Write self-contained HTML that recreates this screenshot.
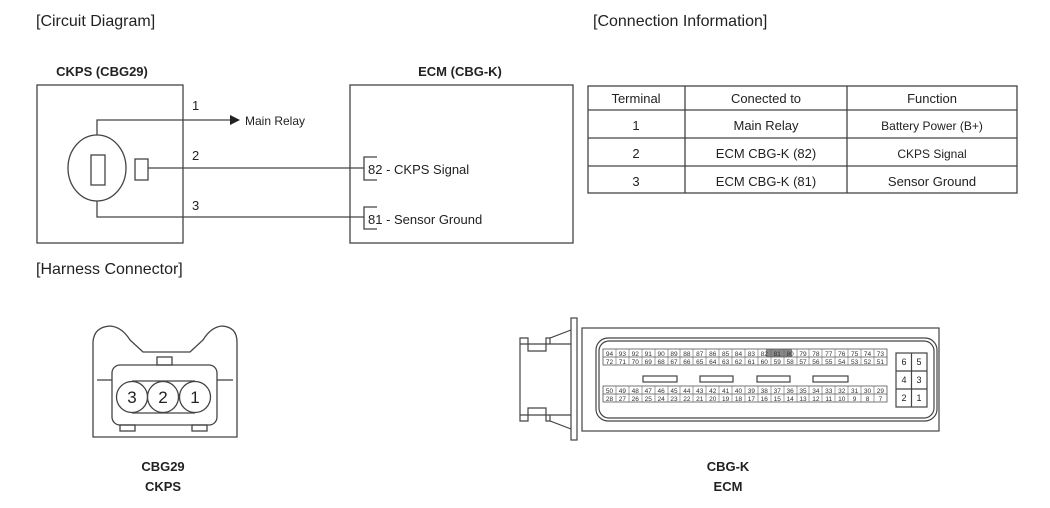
<!DOCTYPE html>
<html><head><meta charset="utf-8"><style>
body{margin:0;background:#fff;}
svg{display:block;font-family:"Liberation Sans",sans-serif;}
</style></head><body>
<svg width="1050" height="508" viewBox="0 0 1050 508" xmlns="http://www.w3.org/2000/svg">
<g font-size="16" fill="#222">
<text x="36" y="26">[Circuit Diagram]</text>
<text x="593" y="26">[Connection Information]</text>
<text x="36" y="274">[Harness Connector]</text>
</g>
<g font-size="13" font-weight="bold" fill="#222" text-anchor="middle">
<text x="102" y="76">CKPS (CBG29)</text>
<text x="460" y="76">ECM (CBG-K)</text>
<text x="163" y="471">CBG29</text>
<text x="163" y="491">CKPS</text>
<text x="728" y="471">CBG-K</text>
<text x="728" y="491">ECM</text>
</g>
<g fill="none" stroke="#444" stroke-width="1.3">
<rect x="37" y="85" width="146" height="158"/>
<rect x="350" y="85" width="223" height="158"/>
<ellipse cx="97" cy="168" rx="29" ry="33"/>
<rect x="91" y="155" width="14" height="30"/>
<rect x="135" y="159" width="13" height="21"/>
<polyline points="97,135 97,120 232,120"/>
<line x1="148" y1="168" x2="364" y2="168"/>
<polyline points="97,201 97,217 364,217"/>
<polyline points="377,157 364,157 364,180 377,180"/>
<polyline points="377,207 364,207 364,229 377,229"/>
</g>
<polygon points="230,115 240,120 230,125" fill="#222"/>
<g font-size="13" fill="#222">
<text x="192" y="110">1</text>
<text x="192" y="160">2</text>
<text x="192" y="210">3</text>
<text x="245" y="125" font-size="12">Main Relay</text>
<text x="368" y="174">82 - CKPS Signal</text>
<text x="368" y="224">81 - Sensor Ground</text>
</g>
<!-- table -->
<g fill="none" stroke="#444" stroke-width="1.3">
<rect x="588" y="86" width="429" height="107"/>
<line x1="685" y1="86" x2="685" y2="193"/>
<line x1="847" y1="86" x2="847" y2="193"/>
<line x1="588" y1="110" x2="1017" y2="110"/>
<line x1="588" y1="138" x2="1017" y2="138"/>
<line x1="588" y1="166" x2="1017" y2="166"/>
</g>
<g font-size="13" fill="#222" text-anchor="middle">
<text x="636" y="103">Terminal</text><text x="766" y="103">Conected to</text><text x="932" y="103">Function</text>
<text x="636" y="130">1</text><text x="766" y="130">Main Relay</text><text x="932" y="130" font-size="12">Battery Power (B+)</text>
<text x="636" y="158">2</text><text x="766" y="158">ECM CBG-K (82)</text><text x="932" y="158" font-size="12">CKPS Signal</text>
<text x="636" y="186">3</text><text x="766" y="186">ECM CBG-K (81)</text><text x="932" y="186">Sensor Ground</text>
</g>
<!-- CKPS connector -->
<g fill="none" stroke="#444" stroke-width="1.3">
<path d="M93 437 L93 342 Q94 327 110 326 Q122 327 130 340 L143 352 L190 352 L203 340 Q211 327 222 326 Q237 327 237 342 L237 437 Z"/>
<rect x="112" y="365" width="105" height="60" rx="8"/>
<rect x="157" y="357" width="15" height="8"/>
<rect x="120" y="425" width="15" height="6"/>
<rect x="192" y="425" width="15" height="6"/>
<line x1="97" y1="380" x2="112" y2="380"/><line x1="217" y1="380" x2="233" y2="380"/>
<line x1="132" y1="381" x2="195" y2="381"/><line x1="132" y1="413" x2="195" y2="413"/>
<circle cx="132" cy="397" r="15.5" fill="#fff"/>
<circle cx="163" cy="397" r="15.5" fill="#fff"/>
<circle cx="195" cy="397" r="15.5" fill="#fff"/>
</g>
<g font-size="17" fill="#222" text-anchor="middle">
<text x="132" y="403">3</text><text x="163" y="403">2</text><text x="195" y="403">1</text>
</g>
<!-- ECM connector -->
<g fill="none" stroke="#444" stroke-width="1.2">
<rect x="571" y="318" width="6" height="122"/>
<rect x="582" y="328" width="357" height="103"/>
<rect x="596" y="338" width="341" height="83" rx="12"/>
<rect x="599" y="341" width="335" height="77" rx="10"/>
<path d="M571 344 L520 344 L520 338 L528 338 L528 351 L546 351 L546 338 L550 338 L571 330"/>
<path d="M571 415 L520 415 L520 421 L528 421 L528 408 L546 408 L546 421 L550 421 L571 429"/>
<line x1="520" y1="344" x2="520" y2="415"/>
<line x1="550" y1="338" x2="550" y2="344"/><line x1="550" y1="415" x2="550" y2="421"/>
<rect x="643" y="376" width="34" height="6"/>
<rect x="700" y="376" width="33" height="6"/>
<rect x="757" y="376" width="33" height="6"/>
<rect x="813" y="376" width="35" height="6"/>
<rect x="896" y="353" width="31" height="54"/>
<line x1="911.5" y1="353" x2="911.5" y2="407"/>
<line x1="896" y1="371" x2="927" y2="371"/><line x1="896" y1="389" x2="927" y2="389"/>
</g>
<rect x="766" y="349" width="26" height="8" fill="#888"/>
<g id="pins" font-size="6.5" fill="#333" text-anchor="middle"></g>
<g font-size="9" fill="#222" text-anchor="middle">
<text x="904" y="365">6</text><text x="919" y="365">5</text>
<text x="904" y="383">4</text><text x="919" y="383">3</text>
<text x="904" y="401">2</text><text x="919" y="401">1</text>
</g>
<g fill="none" stroke="#555" stroke-width="0.8" id="grid">
<rect x="603" y="349" width="284" height="16"/>
<line x1="603" y1="357" x2="887" y2="357"/>
<rect x="603" y="386" width="284" height="16"/>
<line x1="603" y1="394" x2="887" y2="394"/>
</g>
<g font-size="6.5" fill="#333" text-anchor="middle">
<text y="356"><tspan x="609.5">94</tspan><tspan x="622.4">93</tspan><tspan x="635.3">92</tspan><tspan x="648.2">91</tspan><tspan x="661.1">90</tspan><tspan x="674">89</tspan><tspan x="686.9">88</tspan><tspan x="699.8">87</tspan><tspan x="712.7">86</tspan><tspan x="725.6">85</tspan><tspan x="738.5">84</tspan><tspan x="751.4">83</tspan><tspan x="764.3">82</tspan><tspan x="777.2">81</tspan><tspan x="790.1">80</tspan><tspan x="803">79</tspan><tspan x="815.9">78</tspan><tspan x="828.8">77</tspan><tspan x="841.7">76</tspan><tspan x="854.6">75</tspan><tspan x="867.5">74</tspan><tspan x="880.4">73</tspan></text>
<text y="364"><tspan x="609.5">72</tspan><tspan x="622.4">71</tspan><tspan x="635.3">70</tspan><tspan x="648.2">69</tspan><tspan x="661.1">68</tspan><tspan x="674">67</tspan><tspan x="686.9">66</tspan><tspan x="699.8">65</tspan><tspan x="712.7">64</tspan><tspan x="725.6">63</tspan><tspan x="738.5">62</tspan><tspan x="751.4">61</tspan><tspan x="764.3">60</tspan><tspan x="777.2">59</tspan><tspan x="790.1">58</tspan><tspan x="803">57</tspan><tspan x="815.9">56</tspan><tspan x="828.8">55</tspan><tspan x="841.7">54</tspan><tspan x="854.6">53</tspan><tspan x="867.5">52</tspan><tspan x="880.4">51</tspan></text>
<text y="393"><tspan x="609.5">50</tspan><tspan x="622.4">49</tspan><tspan x="635.3">48</tspan><tspan x="648.2">47</tspan><tspan x="661.1">46</tspan><tspan x="674">45</tspan><tspan x="686.9">44</tspan><tspan x="699.8">43</tspan><tspan x="712.7">42</tspan><tspan x="725.6">41</tspan><tspan x="738.5">40</tspan><tspan x="751.4">39</tspan><tspan x="764.3">38</tspan><tspan x="777.2">37</tspan><tspan x="790.1">36</tspan><tspan x="803">35</tspan><tspan x="815.9">34</tspan><tspan x="828.8">33</tspan><tspan x="841.7">32</tspan><tspan x="854.6">31</tspan><tspan x="867.5">30</tspan><tspan x="880.4">29</tspan></text>
<text y="401"><tspan x="609.5">28</tspan><tspan x="622.4">27</tspan><tspan x="635.3">26</tspan><tspan x="648.2">25</tspan><tspan x="661.1">24</tspan><tspan x="674">23</tspan><tspan x="686.9">22</tspan><tspan x="699.8">21</tspan><tspan x="712.7">20</tspan><tspan x="725.6">19</tspan><tspan x="738.5">18</tspan><tspan x="751.4">17</tspan><tspan x="764.3">16</tspan><tspan x="777.2">15</tspan><tspan x="790.1">14</tspan><tspan x="803">13</tspan><tspan x="815.9">12</tspan><tspan x="828.8">11</tspan><tspan x="841.7">10</tspan><tspan x="854.6">9</tspan><tspan x="867.5">8</tspan><tspan x="880.4">7</tspan></text>
</g>
<g stroke="#666" stroke-width="0.6">
<path d="M616 349V365M629 349V365M642 349V365M655 349V365M668 349V365M680 349V365M693 349V365M706 349V365M719 349V365M732 349V365M745 349V365M758 349V365M771 349V365M784 349V365M797 349V365M809 349V365M822 349V365M835 349V365M848 349V365M861 349V365M874 349V365"/>
<path d="M616 386V402M629 386V402M642 386V402M655 386V402M668 386V402M680 386V402M693 386V402M706 386V402M719 386V402M732 386V402M745 386V402M758 386V402M771 386V402M784 386V402M797 386V402M809 386V402M822 386V402M835 386V402M848 386V402M861 386V402M874 386V402"/>
</g>
</svg>
</body></html>
